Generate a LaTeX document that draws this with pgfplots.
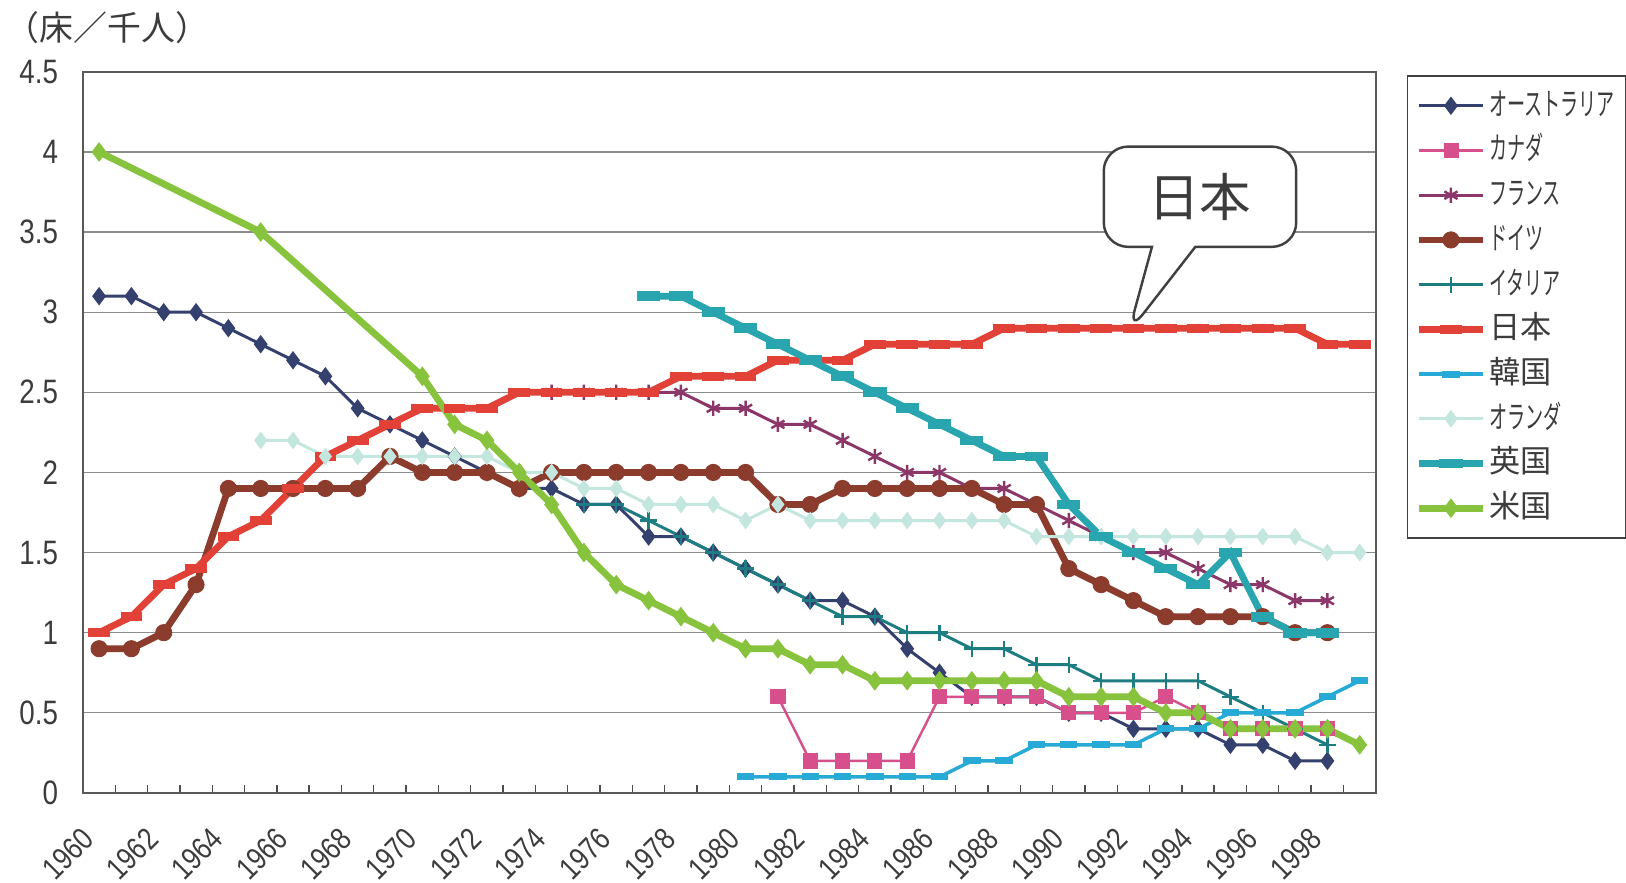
\documentclass[border=0pt]{standalone}
\usepackage{fontspec}
\setmainfont[FakeStretch=0.82]{Liberation Sans}
\newfontfamily\jp{Noto Sans CJK JP}
\newfontfamily\jpn[FakeStretch=0.58]{Noto Sans CJK JP}
\usepackage{pgfplots}
\pgfplotsset{compat=1.18}
\usetikzlibrary{shapes.callouts}
\definecolor{txt}{RGB}{60,60,60}
\definecolor{cAUS}{RGB}{52,64,110}
\definecolor{cCAN}{RGB}{215,80,140}
\definecolor{cFRA}{RGB}{140,55,105}
\definecolor{cGER}{RGB}{140,60,45}
\definecolor{cITA}{RGB}{30,125,130}
\definecolor{cJPN}{RGB}{225,65,55}
\definecolor{cKOR}{RGB}{40,170,215}
\definecolor{cNLD}{RGB}{195,230,222}
\definecolor{cGBR}{RGB}{40,165,175}
\definecolor{cUSA}{RGB}{135,195,60}
\begin{document}
\begin{tikzpicture}
\useasboundingbox (0,0) rectangle (600pt,325.8pt);
\fill[white] (0,0) rectangle (600pt,325.8pt);
\node[anchor=west, inner sep=0pt, text=txt, font=\jp\fontsize{12.5}{14}\selectfont] at (2pt,315.5pt) {（床／千人）};
\begin{axis}[
  at={(30.6pt,33.2pt)}, anchor=south west,
  scale only axis, width=477.1pt, height=266.1pt,
  xmin=1959.5, xmax=1999.5, ymin=0, ymax=4.5,
  xtick={1960,1962,...,1998},
  minor xtick={1960.5,1961.5,...,1998.5},
  ytick={0,0.5,...,4.5},
  xtick pos=bottom, ytick pos=left,
  tick align=inside,
  major tick length=0pt, minor tick length=3pt,
  minor x tick style={draw=black!70, line width=0.5pt},
  ytick style={draw=none},
  ymajorgrids,
  major grid style={draw=black!45, line width=0.5pt},
  axis line style={draw=black!65, line width=0.7pt},
  /pgf/number format/assume math mode=true,
  /pgf/number format/1000 sep={},
  tick label style={text=txt, font=\fontsize{12.5}{14}\selectfont},
  yticklabel style={anchor=east, inner sep=0pt, xshift=-9pt},
  xticklabel style={xshift=-4pt, rotate=45, anchor=east, inner sep=0pt, font=\fontsize{11.5}{13}\selectfont},
  xticklabel shift=15pt,
  legend cell align=left,
  legend image code/.code={\draw[mark repeat=2,mark phase=2,#1] plot coordinates {(0pt,0pt) (11.8pt,0pt) (23.6pt,0pt)};},
  legend style={at={(1.024,0.995)}, anchor=north west, draw=black!75, fill=white,
    font=\jp\fontsize{11.5}{13}\selectfont, text=txt, inner xsep=3pt, inner ysep=4pt,
    row sep=2.5pt, nodes={inner sep=1pt, text height=9.5pt, text depth=2.5pt}},
]
% Australia
\addplot[cAUS, line width=1.1pt, mark=diamond*, mark size=3pt, mark options={solid, fill=cAUS, line width=0.5pt}] coordinates {
(1960,3.1)(1961,3.1)(1962,3.0)(1963,3.0)(1964,2.9)(1965,2.8)(1966,2.7)(1967,2.6)(1968,2.4)(1969,2.3)(1970,2.2)(1971,2.1)(1972,2.0)(1973,1.9)(1974,1.9)(1975,1.8)(1976,1.8)(1977,1.6)(1978,1.6)(1979,1.5)(1980,1.4)(1981,1.3)(1982,1.2)(1983,1.2)(1984,1.1)(1985,0.9)(1986,0.75)(1987,0.6)(1988,0.6)(1989,0.6)(1990,0.5)(1991,0.5)(1992,0.4)(1993,0.4)(1994,0.4)(1995,0.3)(1996,0.3)(1997,0.2)(1998,0.2)};
\addlegendentry{\jpn オーストラリア}
% Canada
\addplot[cCAN, line width=0.9pt, mark=square*, mark size=2.6pt, mark options={solid, fill=cCAN, line width=0.3pt}] coordinates {
(1981,0.6)(1982,0.2)(1983,0.2)(1984,0.2)(1985,0.2)(1986,0.6)(1987,0.6)(1988,0.6)(1989,0.6)(1990,0.5)(1991,0.5)(1992,0.5)(1993,0.6)(1994,0.5)(1995,0.4)(1996,0.4)(1997,0.4)(1998,0.4)};
\addlegendentry{\jpn カナダ}
% France
\addplot[cFRA, line width=1.1pt, mark=asterisk, mark size=2.8pt, mark options={solid, line width=0.9pt}] coordinates {
(1974,2.5)(1975,2.5)(1976,2.5)(1977,2.5)(1978,2.5)(1979,2.4)(1980,2.4)(1981,2.3)(1982,2.3)(1983,2.2)(1984,2.1)(1985,2.0)(1986,2.0)(1987,1.9)(1988,1.9)(1989,1.8)(1990,1.7)(1991,1.6)(1992,1.5)(1993,1.5)(1994,1.4)(1995,1.3)(1996,1.3)(1997,1.2)(1998,1.2)};
\addlegendentry{\jpn フランス}
% Germany
\addplot[cGER, line width=2.5pt, mark=*, mark size=3pt, mark options={solid, fill=cGER, line width=0.3pt}] coordinates {
(1960,0.9)(1961,0.9)(1962,1.0)(1963,1.3)(1964,1.9)(1965,1.9)(1966,1.9)(1967,1.9)(1968,1.9)(1969,2.1)(1970,2.0)(1971,2.0)(1972,2.0)(1973,1.9)(1974,2.0)(1975,2.0)(1976,2.0)(1977,2.0)(1978,2.0)(1979,2.0)(1980,2.0)(1981,1.8)(1982,1.8)(1983,1.9)(1984,1.9)(1985,1.9)(1986,1.9)(1987,1.9)(1988,1.8)(1989,1.8)(1990,1.4)(1991,1.3)(1992,1.2)(1993,1.1)(1994,1.1)(1995,1.1)(1996,1.1)(1997,1.0)(1998,1.0)};
\addlegendentry{\jpn ドイツ}
% Italy
\addplot[cITA, line width=1.1pt, mark=+, mark size=3pt, mark options={solid, line width=0.9pt}] coordinates {
(1975,1.8)(1976,1.8)(1977,1.7)(1978,1.6)(1979,1.5)(1980,1.4)(1981,1.3)(1982,1.2)(1983,1.1)(1984,1.1)(1985,1.0)(1986,1.0)(1987,0.9)(1988,0.9)(1989,0.8)(1990,0.8)(1991,0.7)(1992,0.7)(1993,0.7)(1994,0.7)(1995,0.6)(1996,0.5)(1997,0.4)(1998,0.3)};
\addlegendentry{\jpn イタリア}
% Japan
\addplot[cJPN, line width=2.5pt, mark=-, mark size=4pt, mark options={solid, line width=3.2pt}] coordinates {
(1960,1.0)(1961,1.1)(1962,1.3)(1963,1.4)(1964,1.6)(1965,1.7)(1966,1.9)(1967,2.1)(1968,2.2)(1969,2.3)(1970,2.4)(1971,2.4)(1972,2.4)(1973,2.5)(1974,2.5)(1975,2.5)(1976,2.5)(1977,2.5)(1978,2.6)(1979,2.6)(1980,2.6)(1981,2.7)(1982,2.7)(1983,2.7)(1984,2.8)(1985,2.8)(1986,2.8)(1987,2.8)(1988,2.9)(1989,2.9)(1990,2.9)(1991,2.9)(1992,2.9)(1993,2.9)(1994,2.9)(1995,2.9)(1996,2.9)(1997,2.9)(1998,2.8)(1999,2.8)};
\addlegendentry{日本}
% Korea
\addplot[cKOR, line width=1.3pt, mark=-, mark size=3.2pt, mark options={solid, line width=2.6pt}] coordinates {
(1980,0.1)(1981,0.1)(1982,0.1)(1983,0.1)(1984,0.1)(1985,0.1)(1986,0.1)(1987,0.2)(1988,0.2)(1989,0.3)(1990,0.3)(1991,0.3)(1992,0.3)(1993,0.4)(1994,0.4)(1995,0.5)(1996,0.5)(1997,0.5)(1998,0.6)(1999,0.7)};
\addlegendentry{韓国}
% Netherlands
\addplot[cNLD, line width=1.1pt, mark=diamond*, mark size=3pt, mark options={solid, fill=cNLD, line width=0.3pt}] coordinates {
(1965,2.2)(1966,2.2)(1967,2.1)(1968,2.1)(1969,2.1)(1970,2.1)(1971,2.1)(1972,2.1)(1973,2.0)(1974,2.0)(1975,1.9)(1976,1.9)(1977,1.8)(1978,1.8)(1979,1.8)(1980,1.7)(1981,1.8)(1982,1.7)(1983,1.7)(1984,1.7)(1985,1.7)(1986,1.7)(1987,1.7)(1988,1.7)(1989,1.6)(1990,1.6)(1991,1.6)(1992,1.6)(1993,1.6)(1994,1.6)(1995,1.6)(1996,1.6)(1997,1.6)(1998,1.5)(1999,1.5)};
\addlegendentry{\jpn オランダ}
% UK
\addplot[cGBR, line width=2.5pt, mark=-, mark size=4.3pt, mark options={solid, line width=3.6pt}] coordinates {
(1977,3.1)(1978,3.1)(1979,3.0)(1980,2.9)(1981,2.8)(1982,2.7)(1983,2.6)(1984,2.5)(1985,2.4)(1986,2.3)(1987,2.2)(1988,2.1)(1989,2.1)(1990,1.8)(1991,1.6)(1992,1.5)(1993,1.4)(1994,1.3)(1995,1.5)(1996,1.1)(1997,1.0)(1998,1.0)};
\addlegendentry{英国}
% USA
\addplot[cUSA, line width=2.5pt, mark=diamond*, mark size=3.4pt, mark options={solid, fill=cUSA, line width=0.3pt}] coordinates {
(1960,4.0)(1965,3.5)(1970,2.6)(1971,2.3)(1972,2.2)(1973,2.0)(1974,1.8)(1975,1.5)(1976,1.3)(1977,1.2)(1978,1.1)(1979,1.0)(1980,0.9)(1981,0.9)(1982,0.8)(1983,0.8)(1984,0.7)(1985,0.7)(1986,0.7)(1987,0.7)(1988,0.7)(1989,0.7)(1990,0.6)(1991,0.6)(1992,0.6)(1993,0.5)(1994,0.5)(1995,0.4)(1996,0.4)(1997,0.4)(1998,0.4)(1999,0.3)};
\addlegendentry{米国}
\end{axis}
\node[rectangle callout, draw=black!75, line width=0.9pt, fill=white, rounded corners=9pt,
  minimum width=71pt, minimum height=37pt, callout absolute pointer={(416.4pt,203pt)},
  callout pointer width=16pt, text=txt, font=\jp\fontsize{19}{21}\selectfont] at (442.8pt,253.2pt) {日本};
\end{tikzpicture}
\end{document}
